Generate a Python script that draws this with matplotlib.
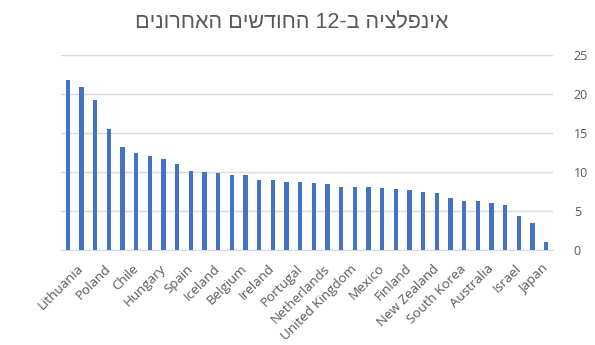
import re
import numpy as np
import matplotlib as mpl
mpl.use('agg')
import matplotlib.pyplot as plt

# 12-month inflation by country, sorted high to low
countries = ['Estonia', 'Lithuania', 'Latvia', 'Poland', 'Czech Republic', 'Chile',
             'Slovakia', 'Hungary', 'Greece', 'Spain', 'Slovenia', 'Iceland',
             'United States', 'Belgium', 'Italy', 'Ireland', 'Austria', 'Portugal',
             'Denmark', 'Netherlands', 'Germany', 'United Kingdom', 'Luxembourg', 'Mexico',
             'Canada', 'Finland', 'Sweden', 'New Zealand', 'Norway', 'South Korea',
             'Costa Rica', 'Australia', 'France', 'Israel', 'Switzerland', 'Japan']
inflation = [21.8, 20.9, 19.2, 15.5, 13.2, 12.4,
             12.05, 11.7, 11.0, 10.1, 10.0, 9.9,
             9.6, 9.6, 9.0, 9.0, 8.7, 8.7,
             8.6, 8.5, 8.1, 8.1, 8.1, 7.95,
             7.8, 7.7, 7.4, 7.3, 6.7, 6.3,
             6.3, 6.0, 5.8, 4.4, 3.4, 1.0]

title = 'אינפלציה ב-12 החודשים האחרונים'


def rtl(s):
    # matplotlib has no bidi support: flip the string, keep numbers left-to-right
    return re.sub(r'\d+', lambda m: m.group(0)[::-1], s[::-1])


grey = '#595959'
fig = plt.figure(figsize=(5.95, 3.45), dpi=100)
ax = fig.add_axes([0.1025, 0.2754, 0.8269, 0.5652])

x = np.arange(len(countries))
ax.bar(x, inflation, width=0.3, color='#4472C4', zorder=3)

ax.set_xlim(-0.5, len(countries) - 0.5)
ax.set_ylim(0, 25)
ax.set_yticks(range(0, 26, 5))
ax.yaxis.tick_right()
ax.grid(axis='y', color='#D9D9D9', linewidth=1, zorder=0)
for side in ['top', 'left', 'right']:
    ax.spines[side].set_visible(False)
ax.spines['bottom'].set_color('#D9D9D9')
ax.tick_params(axis='y', length=0, pad=15, labelsize=9, labelcolor=grey)
ax.tick_params(axis='x', length=0, pad=12, labelsize=9.6, labelcolor=grey)

# only every other category gets a label
ax.set_xticks(x[1::2])
ax.set_xticklabels(countries[1::2], rotation=45, ha='right', va='center',
                   rotation_mode='anchor', family='Open Sans')
for t in ax.get_yticklabels():
    t.set_family('Open Sans')

fig.text(0.49, 0.935, rtl(title), ha='center', va='center', fontsize=15.5,
         color=grey, family='Liberation Sans')

fig.savefig('out.png', dpi=100)
